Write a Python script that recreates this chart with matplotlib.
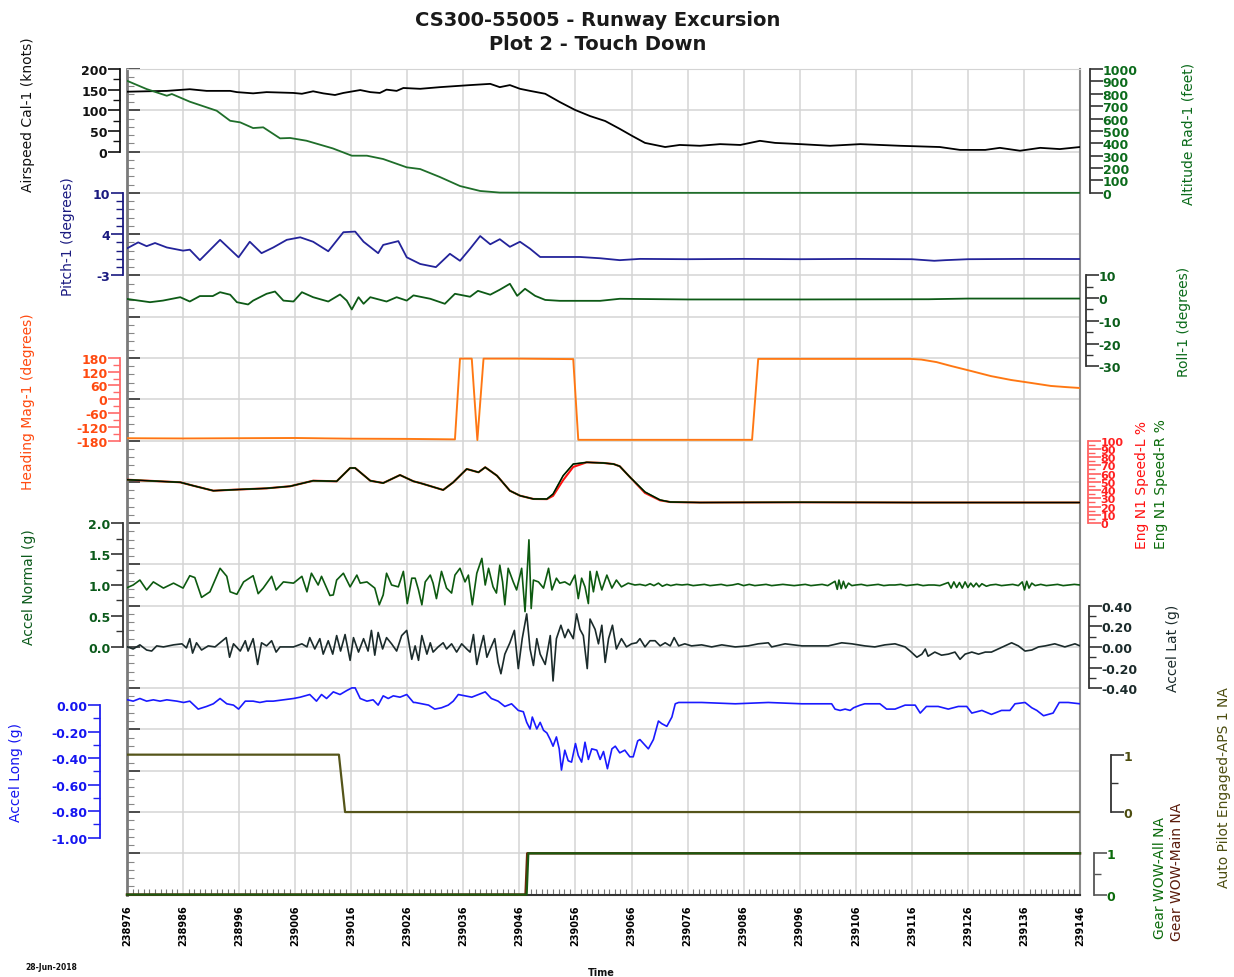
import numpy as np
import matplotlib
matplotlib.use("Agg")
import matplotlib.pyplot as plt
from matplotlib.ticker import FixedLocator

plt.rcParams['font.family'] = ['DejaVu Sans']
plt.rcParams['axes.unicode_minus'] = False

T0 = 238976
time_ticks = list(range(238976, 239147, 10))

# ---------------- data (time offsets in s from T0) ----------------
airspeed_t = [0.1, 3.5, 7.1, 11.2, 14.2, 18.4, 19.6, 22.5, 24.9, 29.7, 31.2, 33.2, 35.0, 37.1, 38.6,
              41.6, 43.4, 45.1, 46.3, 48.1, 49.3, 52.3, 55.8, 61.2, 64.8, 66.5, 68.3, 70.1, 71.9,
              74.6, 77.2, 79.9, 82.6, 85.3, 87.9, 90.1, 92.4, 94.2, 96.0, 98.6, 102.2, 105.8, 109.4,
              112.9, 115.6, 120.1, 125.4, 130.8, 137.9, 145.0, 148.6, 153.1, 155.7, 159.3, 162.9,
              166.4, 170.0]
airspeed_v = [145, 146, 147, 151, 147, 147, 144, 141, 144, 142, 140, 146, 141, 137, 142,
              149, 144, 142, 150, 147, 154, 152, 156, 161, 164, 156, 161, 152, 147,
              140, 120, 101, 86, 74, 55, 38, 21, 16, 11, 16, 14, 18, 16,
              26, 21, 18, 14, 18, 14, 11, 4, 4, 9, 2, 9, 6, 11]

altitude_t = [0.1, 3.5, 7.1, 8.0, 11.2, 16.0, 18.4, 20.2, 22.5, 24.3, 27.3, 29.1, 32.0, 36.7,
              40.1, 42.8, 45.7, 49.9, 52.3, 55.8, 59.4, 63.0, 66.5, 80.0, 120.0, 170.0]
altitude_v = [903, 838, 784, 798, 736, 663, 582, 569, 523, 529, 440, 443, 421, 359,
              300, 300, 273, 206, 192, 128, 55, 15, 2, 0, 0, 0]

pitch_t = [0.1, 2.0, 3.5, 5.0, 7.1, 10.0, 11.2, 13.0, 16.6, 19.9, 21.9, 24.0, 26.1, 28.5, 30.9,
           33.2, 35.9, 38.6, 40.7, 42.2, 44.8, 45.7, 48.4, 49.9, 52.3, 55.1, 57.6, 59.4, 61.2,
           63.0, 64.8, 66.5, 68.3, 70.1, 71.9, 73.7, 77.2, 80.8, 84.4, 87.9, 91.5, 100, 110,
           120, 130, 140, 144, 146, 150, 160, 170]
pitch_v = [1.3, 2.2, 1.6, 2.1, 1.4, 0.9, 1.05, -0.6, 2.6, -0.15, 2.3, 0.5, 1.4, 2.6, 3.0,
           2.3, 0.8, 3.8, 3.9, 2.3, 0.5, 1.8, 2.4, -0.15, -1.2, -1.7, 0.4, -0.7, 1.2,
           3.2, 1.9, 2.7, 1.5, 2.3, 1.2, -0.1, -0.1, -0.1, -0.3, -0.6, -0.4, -0.45, -0.4,
           -0.45, -0.4, -0.45, -0.7, -0.6, -0.45, -0.4, -0.42]

roll_t = [0.1, 4.1, 6.4, 9.5, 11.2, 13.0, 15.3, 16.6, 18.4, 19.6, 21.6, 22.5, 24.9, 26.4, 27.9,
          29.7, 31.2, 33.2, 35.9, 38.0, 39.2, 40.1, 41.3, 42.2, 43.4, 46.3, 48.1, 49.9, 51.1,
          54.1, 56.7, 58.5, 61.2, 62.6, 64.8, 66.5, 68.3, 69.6, 71.0, 72.8, 74.6, 77.2, 84.4,
          87.9, 100, 120, 143, 150, 170]
roll_v = [-0.4, -1.8, -1.1, 0.4, -1.5, 0.9, 0.9, 2.6, 1.5, -1.8, -2.8, -1.1, 1.9, 2.9, -1.1,
          -1.5, 2.6, 0.4, -1.5, 1.6, -1.1, -5.0, 0.4, -2.5, 0.4, -1.5, 0.4, -1.1, 1.2,
          -0.3, -2.5, 1.9, 0.6, 3.2, 1.5, 3.7, 6.3, 1.0, 4.1, 1.0, -0.8, -1.2, -1.2,
          -0.3, -0.6, -0.6, -0.5, -0.2, -0.2]

heading_t = [0, 10, 20, 30, 40, 50, 58.5, 59.4, 61.5, 62.5, 63.6, 70, 79.6, 80.5, 95, 111.5,
             112.6, 125, 139.7, 141.7, 144.4, 147.0, 150.6, 154.1, 157.7, 161.3, 164.8, 167.5, 170.0]
heading_v = [-170, -171, -170, -169, -172, -173, -175, 177, 177, -178, 177, 177, 175, -177, -177, -177,
             176, 176, 176, 173, 162, 145, 123, 101, 84, 71, 58, 53, 49]

eng_t = [0.1, 9.5, 11.8, 15.4, 19.0, 24.9, 29.1, 33.2, 37.4, 39.8, 40.7, 43.4, 45.7, 48.7, 51.1,
         52.3, 56.4, 58.2, 60.6, 62.7, 63.9, 66.0, 68.3, 70.1, 72.5, 74.9, 76.0, 77.8, 79.6,
         82.0, 85.0, 86.8, 87.9, 89.7, 92.4, 95.1, 96.9, 102.2, 120, 140, 170]
eng_L = [52.5, 49.4, 45.3, 39.2, 40.4, 42.1, 44.6, 51.3, 50.6, 66.7, 66.7, 51.3, 48.5, 58.2, 50.6,
         48.5, 40.1, 49.4, 65.5, 61.5, 67.6, 57.4, 39.2, 33.2, 29.2, 29.0, 33.0, 52.0, 68.0,
         73.6, 72.8, 71.5, 68.8, 55.8, 36.5, 27.5, 25.5, 24.9, 25.2, 24.9, 24.9]
eng_R = [52.5, 49.4, 45.3, 39.2, 40.4, 42.1, 44.6, 51.3, 50.6, 66.7, 66.7, 51.3, 48.5, 58.2, 50.6,
         48.5, 40.1, 49.4, 65.5, 61.5, 67.6, 57.4, 39.2, 33.2, 29.2, 29.2, 35.2, 57.4, 71.5,
         73.6, 72.8, 71.5, 68.8, 55.8, 37.7, 28.0, 25.5, 24.9, 25.2, 24.9, 24.9]

acc_norm_t = [0.1, 1.1, 2.3, 3.5, 4.7, 6.5, 8.3, 10.0, 11.2, 12.1, 13.3, 14.8, 16.6, 17.8, 18.4,
              19.6, 20.8, 22.5, 23.4, 24.3, 25.8, 26.6, 27.9, 29.7, 31.2, 32.1, 32.9, 34.1, 34.7,
              36.2, 36.8, 37.4, 38.6, 39.8, 41.0, 41.6, 42.8, 44.2, 45.0, 45.7, 46.3, 47.2, 48.4,
              49.3, 50.0, 50.8,
              51.4, 52.0, 52.6, 53.2, 54.1, 54.6, 55.2, 56.1, 57.0, 57.9, 58.5, 59.4, 60.3, 60.9,
              61.6, 62.4, 63.3, 63.9, 64.5, 65.3, 65.9, 66.5, 67.0, 67.4, 68.0, 68.9, 69.5, 70.4,
              71.0, 71.7, 72.1, 72.5, 73.4, 74.3, 75.2, 75.8, 76.6, 77.2, 78.1, 79.0, 79.9, 80.5,
              81.1, 81.7, 82.3, 82.6, 83.2, 83.8, 84.7, 85.6, 86.5, 87.3, 88.2, 89.4, 90.6,
              91.5, 92.5, 93.3, 94.0, 94.8, 95.5, 96.3, 97.0, 98.0, 99, 100, 101, 102, 103, 104,
              105, 106, 107, 108, 109, 110, 111, 112, 113, 114, 115, 116, 117, 118, 119, 120,
              121, 122, 123, 124, 125, 126.3, 126.7, 127.0, 127.4, 127.8, 128.2, 128.7, 129.3,
              130, 131, 132, 133, 134, 135, 136, 137, 138, 139, 140, 141, 142, 143, 144, 145,
              146.5, 147.0, 147.5, 148.0, 148.5, 149.0, 149.5, 150.0, 150.5, 151.0, 151.5, 152.0,
              152.5, 153.3, 154, 155, 156, 157, 158, 159, 159.7, 160.1, 160.5, 160.9, 161.4,
              162, 163, 164, 165, 166, 167, 168, 169, 170]
acc_norm_v = [0.96, 1.00, 1.08, 0.92, 1.05, 0.95, 1.03, 0.95, 1.15, 1.12, 0.80, 0.89, 1.27, 1.14, 0.89,
              0.85, 1.05, 1.15, 0.86, 0.95, 1.14, 0.92, 1.05, 1.03, 1.14, 0.89, 1.19, 1.00, 1.14,
              0.83, 0.84, 1.08, 1.19, 0.97, 1.16, 1.03, 1.05, 0.95, 0.68, 0.84, 1.19, 1.00, 0.97,
              1.22, 0.70, 1.11,
              1.11, 0.92, 0.68, 1.05, 1.16, 1.03, 0.78, 1.22, 0.95, 0.87, 1.16, 1.27, 1.05, 1.16,
              0.68, 1.19, 1.43, 1.00, 1.27, 0.97, 0.87, 1.32, 1.05, 0.68, 1.27, 1.05, 0.92, 1.27,
              0.57, 1.73, 0.62, 1.08, 1.05, 0.95, 1.27, 0.92, 1.11, 1.03, 1.05, 1.00, 1.16, 0.78,
              1.11, 0.97, 0.70, 1.22, 0.89, 1.22, 0.92, 1.16, 0.95, 1.08, 0.97, 1.03, 1.00,
              1.01, 0.99, 1.02, 0.99, 1.03, 0.98, 1.01, 0.99, 1.01, 1.00, 1.01, 0.99, 1.00, 1.01, 0.99,
              1.00, 1.01, 0.99, 1.00, 1.02, 0.99, 1.01, 0.99, 1.00, 1.01, 0.99, 1.00, 1.01, 1.00, 0.99, 1.00,
              1.01, 0.99, 1.00, 1.01, 0.99, 1.06, 0.93, 1.08, 0.94, 1.06, 0.95, 1.03, 0.99,
              1.00, 1.01, 0.99, 1.00, 1.01, 0.99, 1.00, 1.00, 1.01, 0.99, 1.00, 1.01, 0.99, 1.00, 1.00, 0.99,
              1.04, 0.95, 1.05, 0.96, 1.04, 0.95, 1.05, 0.96, 1.03, 0.97, 1.03, 0.97,
              1.02, 0.98, 1.00, 1.01, 0.99, 1.00, 1.01, 0.99, 1.05, 0.92, 1.06, 0.95, 1.03,
              0.99, 1.01, 0.99, 1.00, 1.01, 0.99, 1.00, 1.01, 1.00]

acc_lat_t = [0.1, 1.1, 2.3, 3.5, 4.4, 5.3, 6.5, 8.3, 9.8, 10.6, 11.2, 11.7, 12.4, 13.3, 14.5, 15.7,
             16.6, 17.7, 18.3, 19.0, 20.2, 21.1, 21.6, 22.5, 23.3, 24.0, 24.9, 25.8, 26.6, 27.3,
             29.7, 31.2, 32.1, 32.6, 33.5, 34.4, 35.0, 35.9, 36.7, 37.4, 38.1, 38.9, 39.8, 40.4,
             41.3, 42.2, 43.0, 43.6, 44.2, 44.8, 45.6, 46.3, 47.2, 48.1, 49.0, 49.9, 50.8,
             51.4, 52.0, 52.6, 53.5, 54.1, 54.6, 55.5, 56.4, 57.0, 57.9, 58.8, 59.7, 60.6, 61.2,
             61.8, 62.4, 63.0, 63.6, 64.2, 64.8, 65.6, 66.2, 66.7, 67.4, 68.3, 69.1, 69.8, 70.5,
             71.3, 71.9, 72.5, 73.1, 73.7, 74.6, 75.5, 76.0, 76.6, 77.4, 78.1, 78.7, 79.6, 80.2,
             80.8, 81.4, 82.1, 82.6, 83.5, 84.1, 84.7, 85.3, 85.9, 86.6, 87.3, 88.2, 89.1, 90.0,
             90.9, 91.5, 92.4, 93.3, 94.2, 95.1, 96.0, 96.9, 97.6, 98.4, 99.5, 100.7, 102.5,
             104.3, 106.1, 108.5, 110.8, 112.6, 114.4, 115.0, 117.4, 120.4, 122.7, 125.1, 127.5,
             129.3, 131.6, 133.4, 135.2, 137.0, 138.8, 139.7, 140.9, 141.8, 142.4, 142.9, 144.1,
             145.3, 146.5, 147.7, 148.6, 149.5, 150.7, 151.9, 153.1, 154.2, 155.4, 156.6, 157.8,
             159.0, 160.2, 161.4, 162.6, 163.8, 165.5, 167.3, 169.1, 170.0]
acc_lat_v = [0.0, -0.02, 0.02, -0.03, -0.04, 0.01, 0.0, 0.02, 0.03, -0.01, 0.08, -0.06, 0.04, -0.03, 0.01, 0.0,
             0.04, 0.09, -0.10, 0.03, -0.04, 0.06, -0.04, 0.08, -0.17, 0.04, 0.01, 0.06, -0.05, 0.0,
             0.0, 0.03, 0.0, 0.09, -0.02, 0.08, -0.07, 0.06, -0.07, 0.11, -0.04, 0.12, -0.13, 0.09,
             -0.05, 0.08, -0.04, 0.16, -0.08, 0.14, -0.02, 0.09, 0.03, -0.04, 0.11, 0.16, -0.12,
             0.01, -0.13, 0.11, -0.07, 0.04, -0.05, 0.0, 0.04, -0.02, 0.03, -0.05, 0.03, -0.02, -0.05,
             0.12, -0.17, -0.02, 0.11, -0.10, -0.02, 0.08, -0.15, -0.26, -0.07, 0.04, 0.16, -0.21, 0.08,
             0.32, -0.02, -0.18, 0.08, -0.07, -0.17, 0.11, -0.33, 0.08, 0.21, 0.09, 0.17, 0.08, 0.32,
             0.17, 0.11, -0.21, 0.27, 0.17, 0.03, 0.21, -0.15, 0.08, 0.21, -0.02, 0.08, 0.0, 0.03,
             0.04, 0.08, 0.0, 0.06, 0.06, 0.01, 0.04, 0.01, 0.09, 0.01, 0.03, 0.01, 0.02,
             0.0, 0.02, 0.0, 0.01, 0.03, 0.04, 0.0, 0.03, 0.01, 0.01, 0.01, 0.04,
             0.03, 0.01, 0.0, 0.02, 0.03, 0.0, -0.04, -0.10, -0.07, -0.02, -0.09, -0.05,
             -0.08, -0.07, -0.05, -0.12, -0.07, -0.05, -0.07, -0.05, -0.05, -0.02, 0.01, 0.04,
             0.01, -0.04, -0.03, 0.0, 0.01, 0.03, 0.0, 0.03, 0.01]

acc_long_t = [0.1, 1.1, 2.3, 3.5, 4.7, 5.9, 7.1, 8.9, 10.1, 11.2, 12.7, 14.2, 15.4, 16.6, 17.8, 19.0,
              19.9, 21.1, 22.5, 23.7, 24.9, 26.1, 27.9, 29.7, 30.9, 32.6, 33.8, 34.7, 35.6, 36.8,
              38.0, 39.2, 40.1, 40.7, 41.6, 42.8, 43.9, 44.8, 45.7, 46.6, 47.5, 48.7, 49.9, 51.1,
              51.4, 52.6, 53.8, 54.9, 56.1, 57.3, 58.2, 59.1, 60.3, 61.5, 62.7, 63.9, 65.0, 66.2,
              67.4, 68.6, 69.8, 70.7, 71.3, 71.9, 72.3, 73.1, 73.7, 74.3, 74.9, 75.5, 76.0, 76.6,
              77.1, 77.5, 78.1, 78.7, 79.3, 80.0, 80.5, 81.1, 81.7, 82.3, 82.9, 83.8, 84.4, 85.0,
              85.7, 86.5, 87.1, 87.9, 88.8, 89.7, 90.3, 91.1, 91.5, 93.0, 93.9, 94.8, 95.4, 96.3,
              97.2, 97.8, 98.4, 102.5, 108.5, 114.4, 120.4, 125.7, 126.3, 127.2, 128.1, 129.0,
              129.6, 130.8, 131.6, 134.3, 135.5, 137.0, 138.8, 140.6, 141.5, 142.6, 144.7, 146.5,
              148.3, 149.8, 150.7, 152.5, 154.2, 156.0, 157.5, 158.4, 160.2, 161.4, 162.3, 163.5,
              165.2, 166.3, 167.9, 170.0]
acc_long_v = [0.04, 0.03, 0.05, 0.03, 0.04, 0.03, 0.04, 0.03, 0.02, 0.03, -0.03, -0.01, 0.01, 0.05, 0.01, 0.0,
              -0.03, 0.03, 0.03, 0.02, 0.03, 0.03, 0.04, 0.05, 0.06, 0.08, 0.03, 0.08, 0.05, 0.10,
              0.08, 0.11, 0.13, 0.13, 0.05, 0.03, 0.04, 0.0, 0.07, 0.05, 0.07, 0.06, 0.08, 0.02,
              0.02, 0.01, 0.0, -0.03, -0.02, 0.0, 0.03, 0.08, 0.07, 0.06, 0.08, 0.10, 0.05, 0.03,
              -0.01, 0.01, -0.04, -0.05, -0.13, -0.18, -0.09, -0.18, -0.13, -0.19, -0.21, -0.26, -0.31, -0.24,
              -0.33, -0.49, -0.34, -0.42, -0.43, -0.29, -0.38, -0.43, -0.28, -0.41, -0.33, -0.34, -0.41, -0.35,
              -0.48, -0.33, -0.31, -0.36, -0.34, -0.39, -0.39, -0.27, -0.26, -0.33, -0.26, -0.12, -0.14, -0.16,
              -0.09, 0.01, 0.02, 0.02, 0.01, 0.02, 0.01, 0.01, -0.03, -0.04, -0.03, -0.04,
              -0.02, 0.0, 0.01, 0.01, -0.03, -0.03, 0.0, 0.0, -0.06, -0.01, -0.01, -0.03,
              -0.01, -0.01, -0.06, -0.04, -0.07, -0.04, -0.04, 0.01, 0.02, -0.02, -0.04, -0.08,
              -0.06, 0.02, 0.02, 0.01]

autopilot_t = [0, 37.8, 38.9, 170]
autopilot_v = [1, 1, 0, 0]

wow_all_t = [0, 71.3, 71.6, 170]
wow_all_v = [0, 0, 1, 1]
wow_main_t = [0, 71.1, 71.4, 170]
wow_main_v = [0, 0, 1, 1]

# ---------------- figure ----------------
W, H = 1234, 978
fig = plt.figure(figsize=(W / 100, H / 100), dpi=100)
L, R, TOP, BOT = 127, 1080, 70, 895.6
ax = fig.add_axes([L / W, 1 - BOT / H, (R - L) / W, (BOT - TOP) / H])

NROWS = 20
ax.set_xlim(T0, time_ticks[-1])
ax.set_ylim(NROWS, 0)
ax.set_yticks(range(NROWS + 1))
ax.yaxis.set_minor_locator(FixedLocator(np.arange(0, NROWS + 0.01, 0.2)))
ax.set_yticklabels([])
ax.tick_params(axis='y', which='major', direction='in', length=9, width=1.2, color='#333333',
               left=True, right=True)
ax.tick_params(axis='y', which='minor', direction='in', length=5, width=0.8, color='#888888',
               left=True, right=True)
ax.set_xticks(time_ticks)
ax.set_xticklabels([str(t) for t in time_ticks], rotation=90, fontsize=7, fontweight='bold')
ax.xaxis.set_minor_locator(FixedLocator(np.arange(T0, time_ticks[-1] + 0.01, 1)))
ax.tick_params(axis='x', which='major', length=0, pad=7)
ax.tick_params(axis='x', which='minor', direction='in', length=4, width=0.8, color='#777777')
ax.grid(True, which='major', color='#d4d4d4', linewidth=1.1)
ax.set_axisbelow(True)
ax.spines['left'].set_color('#7a7a7a')
ax.spines['left'].set_linewidth(2)
ax.spines['right'].set_color('#8a8a8a')
ax.spines['right'].set_linewidth(1.5)
ax.spines['top'].set_color('#d4d4d4')
ax.spines['bottom'].set_color('#333333')
ax.spines['bottom'].set_linewidth(1.5)


def band_axis(side, xpix, anchors, bounds, ticks, color, spine_color, minor=None,
              labels=None, labelsize=9):
    a = ax.twinx()
    (va, ka), (vb, kb) = anchors
    slope = (vb - va) / (kb - ka)
    a.set_ylim(va + (NROWS - ka) * slope, va + (0 - ka) * slope)
    for s in a.spines.values():
        s.set_visible(False)
    sp = a.spines[side]
    sp.set_visible(True)
    sp.set_position(('axes', (xpix - L) / (R - L)))
    sp.set_bounds(*bounds)
    sp.set_color(spine_color)
    sp.set_linewidth(1.3)
    a.yaxis.set_ticks_position(side)
    a.set_yticks(ticks)
    if labels is not None:
        a.set_yticklabels(labels)
    if minor is not None:
        a.yaxis.set_minor_locator(FixedLocator(minor))
    a.tick_params(axis='y', which='major', direction='out', length=9, width=1.2,
                  color=spine_color, labelcolor=color, labelsize=labelsize, pad=0)
    a.tick_params(axis='y', which='minor', direction='out', length=5, width=1.0, color=spine_color)
    for lb in a.get_yticklabels():
        lb.set_fontweight('bold')
    return a


def tt(offs):
    return [T0 + o for o in offs]


# Airspeed
a1 = band_axis('left', 120, ((0, 2), (200, 0)), (0, 200), [0, 50, 100, 150, 200], '#111111', '#111111',
               minor=[25, 75, 125, 175])
a1.plot(tt(airspeed_t), airspeed_v, color='#000000', lw=1.3)
# Altitude
a2 = band_axis('right', 1090, ((0, 3), (1000, 0)), (0, 1000), list(range(0, 1001, 100)), '#0b6b1b', '#333333')
a2.plot(tt(altitude_t), altitude_v, color='#1f6e2a', lw=1.3)
# Pitch
a3 = band_axis('left', 123, ((-3, 5), (10, 3)), (-3, 10), [-3, 3.5, 10], '#1a1a80', '#1a1a80',
               minor=[-1.7, -0.4, 0.9, 2.2, 4.8, 6.1, 7.4, 8.7], labels=['-3', '4', '10'])
a3.plot(tt(pitch_t), pitch_v, color='#23239a', lw=1.3)
# Roll
a4 = band_axis('right', 1086, ((10, 5), (-30, 7.2)), (-30, 10), [-30, -20, -10, 0, 10], '#0b5e1b', '#333333',
               minor=[-25, -15, -5, 5])
a4.plot(tt(roll_t), roll_v, color='#0d5a16', lw=1.3)
# Heading
a5 = band_axis('left', 120, ((180, 7), (-180, 9)), (-180, 180), list(range(-180, 181, 60)), '#ff4a10', '#ff6a6a',
               minor=list(range(-150, 180, 60)))
a5.plot(tt(heading_t), heading_v, color='#ff8a10', lw=1.4)
a5.plot(tt(heading_t), heading_v, color='#ff4a30', lw=0.5, alpha=0.6)
# Eng N1
a6 = band_axis('right', 1088, ((100, 9), (0, 11)), (0, 100), list(range(0, 101, 10)), '#ff2020', '#ff6060',
               minor=list(range(5, 100, 10)), labelsize=8)
a6.plot(tt(eng_t), eng_L, color='#ff1010', lw=1.5)
a6.plot(tt(eng_t), eng_R, color='#0a7a0a', lw=1.2)
a6.plot(tt(eng_t), eng_R, color='#000000', lw=0.8)
# Accel normal
a7 = band_axis('left', 123, ((2.0, 11), (0.0, 14)), (0, 2.0), [0, 0.5, 1.0, 1.5, 2.0], '#0b5a1b', '#333333',
               minor=[0.25, 0.75, 1.25, 1.75], labels=['0.0', '0.5', '1.0', '1.5', '2.0'])
a7.plot(tt(acc_norm_t), acc_norm_v, color='#0d5a10', lw=1.2)
# Accel lat
a8 = band_axis('right', 1089, ((0.4, 13), (-0.4, 15)), (-0.4, 0.4), [-0.4, -0.2, 0, 0.2, 0.4], '#1b2b2b', '#333333',
               minor=[-0.3, -0.1, 0.1, 0.3], labels=['-0.40', '-0.20', '0.00', '0.20', '0.40'])
a8.plot(tt(acc_lat_t), acc_lat_v, color='#1b2b2b', lw=1.2)
# Accel long
a9 = band_axis('left', 100, ((0.0, 15.41), (-1.0, 18.62)), (-1.0, 0.0), [-1.0, -0.8, -0.6, -0.4, -0.2, 0.0],
               '#1515f0', '#2020f0', minor=[-0.9, -0.7, -0.5, -0.3, -0.1],
               labels=['-1.00', '-0.80', '-0.60', '-0.40', '-0.20', '0.00'])
a9.plot(tt(acc_long_t), acc_long_v, color='#1a1aff', lw=1.2)
# Auto pilot
a10 = band_axis('right', 1111, ((1, 16.61), (0, 18.0)), (0, 1), [0, 1], '#4d4d10', '#333333', minor=[0.5])
a10.plot(tt(autopilot_t), autopilot_v, color='#55551a', lw=1.6)
# Gear WOW
a11 = band_axis('right', 1094, ((1, 19), (0, 20)), (0, 1), [0, 1], '#0b6b0b', '#555555', minor=[0.5])
a11.plot(tt(wow_main_t), wow_main_v, color='#6b2a0a', lw=1.8, clip_on=False)
a11.plot(tt(wow_all_t), wow_all_v, color='#1a5a10', lw=1.5, clip_on=False)


# ---------------- texts ----------------
def ftext(x, y, s, **kw):
    fig.text(x / W, 1 - y / H, s, **kw)


ftext(598, 20, 'CS300-55005 - Runway Excursion', ha='center', va='center', fontsize=14,
      fontweight='bold', color='#1a1a1a')
ftext(598, 45, 'Plot 2 - Touch Down', ha='center', va='center', fontsize=14,
      fontweight='bold', color='#1a1a1a')

lab = dict(rotation=90, ha='center', va='bottom', fontsize=10)
ftext(28, 192, 'Airspeed Cal-1 (knots)', color='#111111', **lab)
ftext(68, 296, 'Pitch-1 (degrees)', color='#1a1a80', **lab)
ftext(28, 490, 'Heading Mag-1 (degrees)', color='#ff4a10', **lab)
ftext(29, 645, 'Accel Normal (g)', color='#0b5a1b', **lab)
ftext(16, 822, 'Accel Long (g)', color='#1515f0', **lab)

ftext(1188, 205, 'Altitude Rad-1 (feet)', color='#0b6b1b', **lab)
ftext(1184, 377, 'Roll-1 (degrees)', color='#0b6b1b', **lab)
ftext(1142, 549, 'Eng N1 Speed-L %', color='#ff1010', **lab)
ftext(1161, 549, 'Eng N1 Speed-R %', color='#0b6b0b', **lab)
ftext(1173, 692, 'Accel Lat (g)', color='#1b2b2b', **lab)
ftext(1224, 888, 'Auto Pilot Engaged-APS 1 NA', color='#4d4d10', **lab)
ftext(1160, 939, 'Gear WOW-All NA', color='#0b6b0b', **lab)
ftext(1177, 941, 'Gear WOW-Main NA', color='#5a1a0a', **lab)

ftext(601, 973, 'Time', ha='center', va='center', fontsize=7, fontweight='bold', color='#111111')
ftext(25, 968, '28-Jun-2018', ha='left', va='center', fontsize=5.5, fontweight='bold', color='#111111')

fig.savefig('out.png', dpi=100)
